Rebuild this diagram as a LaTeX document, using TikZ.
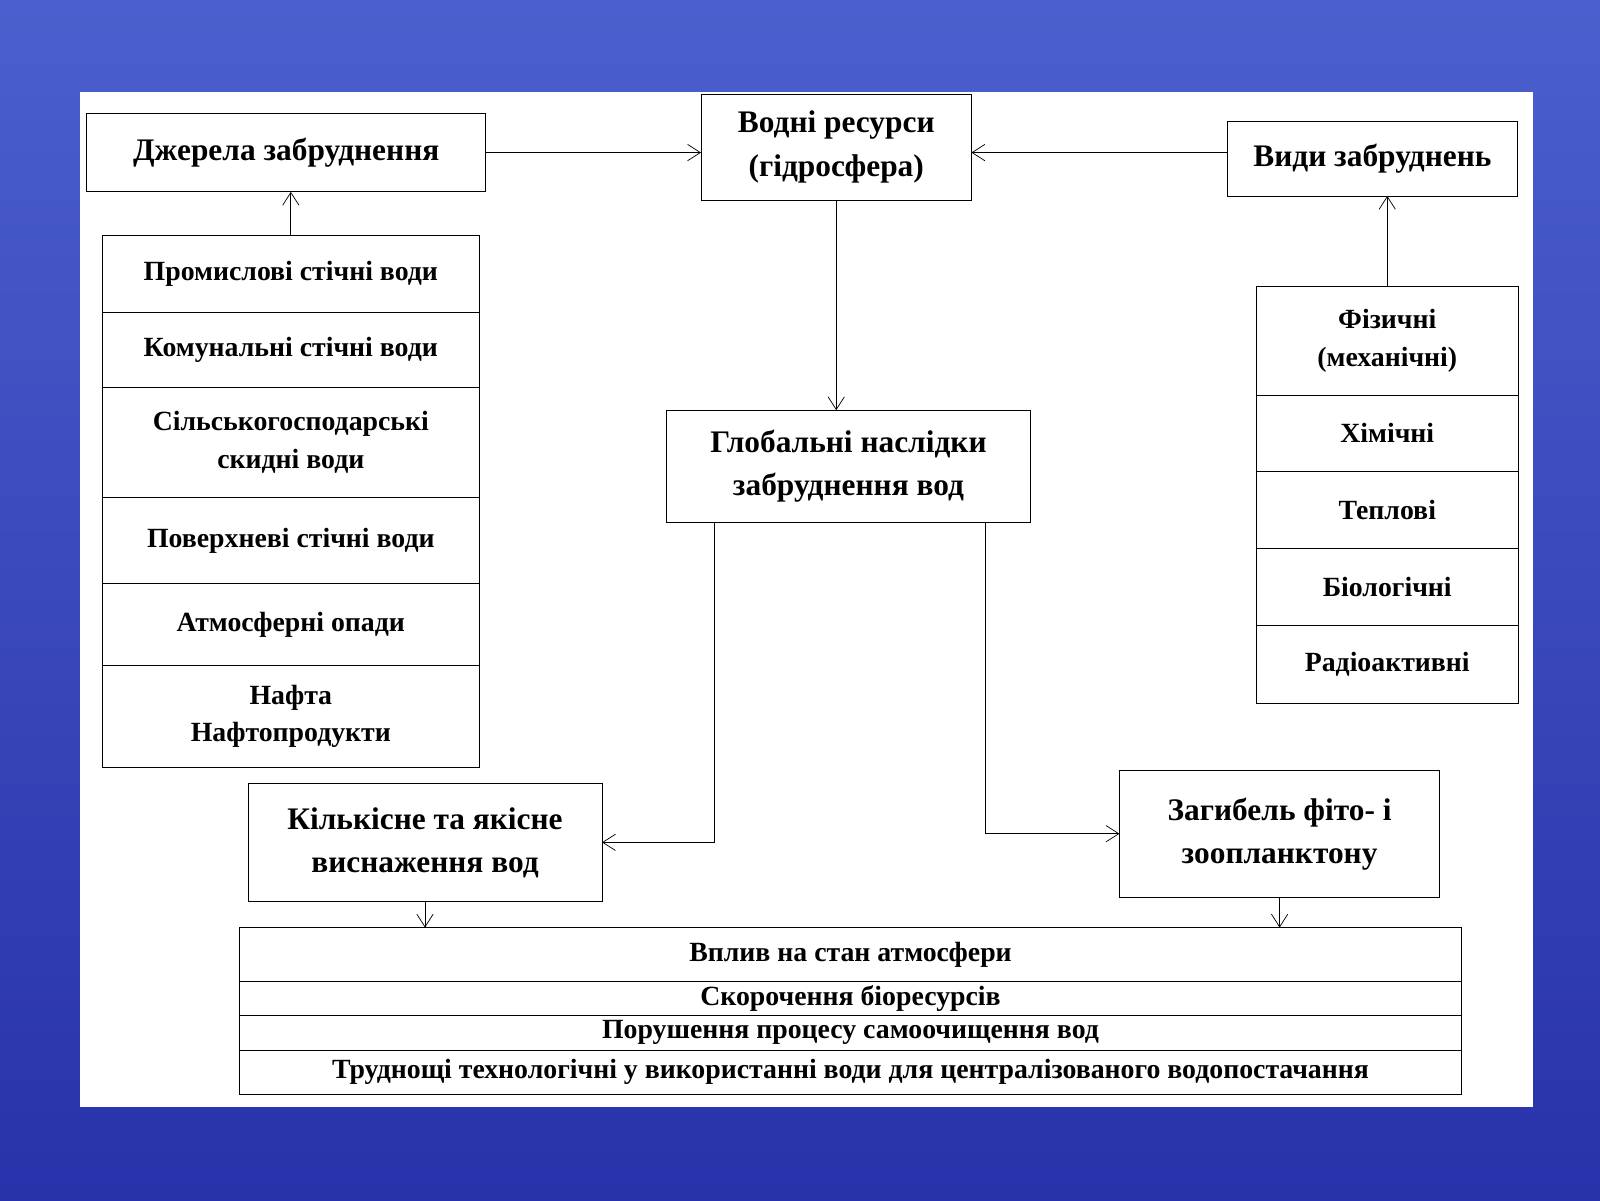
\documentclass[tikz,border=0pt]{standalone}
\usepackage{fontspec}
\setmainfont{Liberation Serif}
\usetikzlibrary{positioning,calc,arrows.meta}
\definecolor{SkyTop}{RGB}{75,95,205}
\definecolor{SkyMid}{RGB}{185,205,242}
\definecolor{SeaLow}{RGB}{40,50,170}
\begin{document}
\begin{tikzpicture}[big/.style={rectangle,draw,thin,inner sep=1mm,outer sep=0pt,align=center,font=\bfseries\fontsize{17.5}{24}\selectfont},
	item/.style={rectangle,draw,thin,inner sep=1mm,outer sep=0pt,align=center,font=\bfseries\fontsize{15.5}{21}\selectfont},
	row/.style={rectangle,draw,thin,inner sep=0mm,outer sep=0pt,align=center,minimum width=23.94cm,font=\bfseries\fontsize{15.5}{17}\selectfont},
	post/.style={-{Straight Barb[length=2.5mm,width=3.2mm]},draw,thin}]

	% Background
	\useasboundingbox (0,0) rectangle (31.36,-23.52);
	\shade[top color=SkyTop, middle color=SkyMid, bottom color=SeaLow] (0,0) rectangle (31.36,-23.52);
	\fill[white] (1.56,-1.80) rectangle (30.04,-21.70);

	% Top row
	\node[big, minimum width=7.82cm, minimum height=1.54cm] (dz) at (5.61,-2.99) {Джерела забруднення};
	\node[big, minimum width=5.30cm, minimum height=2.08cm] (vod) at (16.39,-2.88) {Водні ресурси\\(гідросфера)};
	\node[big, minimum width=5.68cm, minimum height=1.46cm] (vyd) at (26.90,-3.11) {Види забруднень};

	% Sources
	\node[item, minimum width=7.40cm, minimum height=1.50cm, anchor=north] (P1) at (5.70,-4.62) {Промислові стічні води};
	\node[item, minimum width=7.40cm, minimum height=1.48cm, below = 0cm of P1] (P2) {Комунальні стічні води};
	\node[item, minimum width=7.40cm, minimum height=2.14cm, below = 0cm of P2] (P3) {Сільськогосподарські\\скидні води};
	\node[item, minimum width=7.40cm, minimum height=1.70cm, below = 0cm of P3] (P4) {Поверхневі стічні води};
	\node[item, minimum width=7.40cm, minimum height=1.60cm, below = 0cm of P4] (P5) {Атмосферні опади};
	\node[item, minimum width=7.40cm, minimum height=2.00cm, below = 0cm of P5] (P6) {Нафта\\Нафтопродукти};

	% Kinds
	\node[item, minimum width=5.14cm, minimum height=2.12cm, anchor=north] (V1) at (27.19,-5.62) {Фізичні\\(механічні)};
	\node[item, minimum width=5.14cm, minimum height=1.50cm, below = 0cm of V1] (V2) {Хімічні};
	\node[item, minimum width=5.14cm, minimum height=1.50cm, below = 0cm of V2] (V3) {Теплові};
	\node[item, minimum width=5.14cm, minimum height=1.52cm, below = 0cm of V3] (V4) {Біологічні};
	\node[item, minimum width=5.14cm, minimum height=1.52cm, below = 0cm of V4] (V5) {Радіоактивні};

	% Consequences
	\node[big, minimum width=7.14cm, minimum height=2.20cm] (glob) at (16.63,-9.14) {Глобальні наслідки\\забруднення вод};
	\node[big, minimum width=6.94cm, minimum height=2.30cm] (kil) at (8.33,-16.51) {Кількісне та якісне\\виснаження вод};
	\node[big, minimum width=6.28cm, minimum height=2.48cm] (zag) at (25.08,-16.34) {Загибель фіто- і\\зоопланктону};

	% Effects
	\node[row, minimum height=1.06cm, anchor=north] (B1) at (16.67,-18.18) {Вплив на стан атмосфери};
	\node[row, minimum height=0.66cm, below = 0cm of B1] (B2) {Скорочення біоресурсів};
	\node[row, minimum height=0.68cm, below = 0cm of B2] (B3) {Порушення процесу  самоочищення вод};
	\node[row, minimum height=0.86cm, below = 0cm of B3] (B4) {Труднощі технологічні у використанні води для централізованого водопостачання};

	\coordinate (gl) at ($(glob.south)+(-2.63,0)$);
	\coordinate (gr) at ($(glob.south)+(2.69,0)$);

	\path[post] (dz.east) to (vod.west |- dz.east);
	\path[post] (vyd.west |- dz.east) to (vod.east |- dz.east);
	\path[post] (vod.south) to (vod.south |- glob.north);
	\path[post] (P1.north) to (P1.north |- dz.south);
	\path[post] (V1.north) to (V1.north |- vyd.south);
	\draw[post] (gl) |- (kil.east);
	\draw[post] (gr) |- (zag.west);
	\path[post] (kil.south) to (kil.south |- B1.north);
	\path[post] (zag.south) to (zag.south |- B1.north);
\end{tikzpicture}
\end{document}
